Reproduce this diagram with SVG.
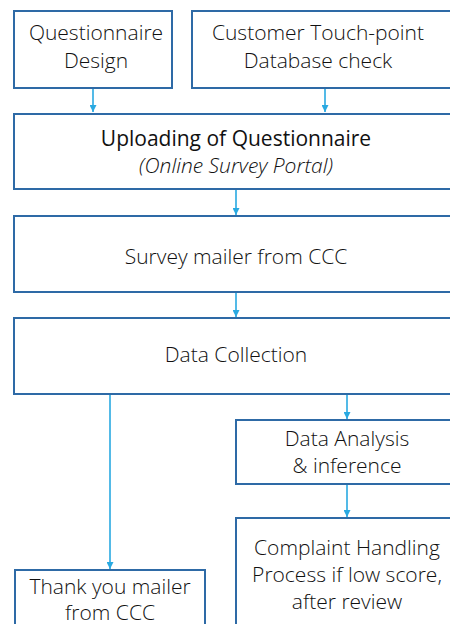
<svg xmlns="http://www.w3.org/2000/svg" width="450" height="624" viewBox="0 0 450 624">
<style>
.box{fill:#fff;stroke:#2e6aa6;stroke-width:2}
.t{font-family:"Open Sans","DejaVu Sans",sans-serif;font-size:21px;fill:#111;text-anchor:middle;font-weight:300}
.c{stroke:#29a9e1;stroke-width:1.6;fill:none}
</style>
<defs>
<marker id="ah" viewBox="0 0 10 10" refX="10" refY="5" markerWidth="8" markerHeight="7" markerUnits="userSpaceOnUse" orient="auto">
<path d="M0,0 L10,5 L0,10 z" fill="#29a9e1"/>
</marker>
</defs>
<rect width="450" height="624" fill="#fff"/>
<g id="connectors">
<line class="c" x1="93" y1="88" x2="93" y2="112" marker-end="url(#ah)"/>
<line class="c" x1="325" y1="88" x2="325" y2="112" marker-end="url(#ah)"/>
<line class="c" x1="236" y1="189" x2="236" y2="215" marker-end="url(#ah)"/>
<line class="c" x1="236" y1="292" x2="236" y2="317" marker-end="url(#ah)"/>
<line class="c" x1="110" y1="394" x2="110" y2="569" marker-end="url(#ah)"/>
<line class="c" x1="347" y1="394" x2="347" y2="419" marker-end="url(#ah)"/>
<line class="c" x1="347" y1="484" x2="347" y2="517" marker-end="url(#ah)"/>
</g>
<g id="n1"><rect class="box" x="14" y="11" width="158" height="77"/>
<text class="t" x="96" y="40">Questionnaire</text><text class="t" x="96" y="68">Design</text></g>
<g id="n2"><rect class="box" x="192" y="11" width="270" height="77"/>
<text class="t" x="318" y="40">Customer Touch-point</text><text class="t" x="318" y="68">Database check</text></g>
<g id="n3"><rect class="box" x="14" y="114" width="448" height="75"/>
<text class="t" x="236" y="146" style="font-weight:400">Uploading of Questionnaire</text><text class="t" x="236" y="173" font-style="italic">(Online Survey Portal)</text></g>
<g id="n4"><rect class="box" x="14" y="216" width="448" height="76"/>
<text class="t" x="236" y="264">Survey mailer from CCC</text></g>
<g id="n5"><rect class="box" x="14" y="318" width="448" height="76"/>
<text class="t" x="236" y="362">Data Collection</text></g>
<g id="n6"><rect class="box" x="236" y="420" width="226" height="64"/>
<text class="t" x="347" y="446">Data Analysis</text><text class="t" x="347" y="473">&amp; inference</text></g>
<g id="n7"><rect class="box" x="236" y="518" width="226" height="120"/>
<text class="t" x="347" y="555">Complaint Handling</text><text class="t" x="347" y="582">Process if low score,</text><text class="t" x="347" y="609">after review</text></g>
<g id="n8"><rect class="box" x="15" y="570" width="190" height="70"/>
<text class="t" x="110" y="594">Thank you mailer</text><text class="t" x="110" y="620">from CCC</text></g>
</svg>
